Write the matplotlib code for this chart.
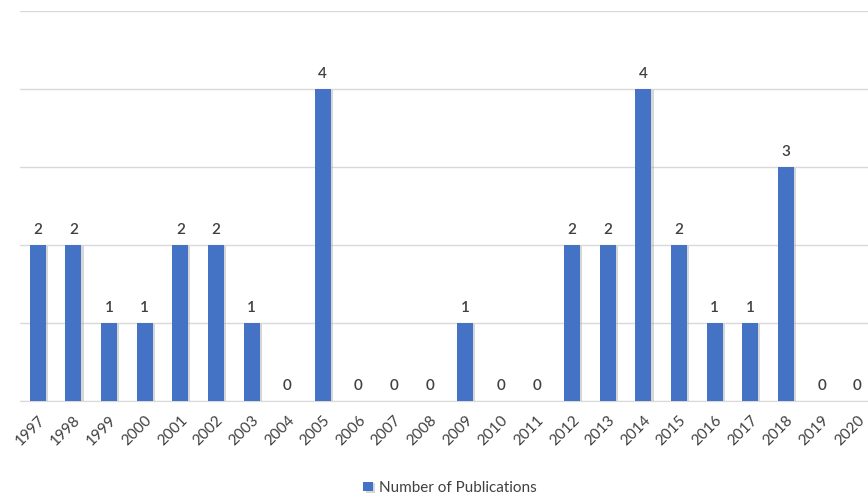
import matplotlib
matplotlib.use("Agg")
import matplotlib.pyplot as plt
import matplotlib.patheffects as pe
import numpy as np

years = ["1997", "1998", "1999", "2000", "2001", "2002", "2003", "2004",
         "2005", "2006", "2007", "2008", "2009", "2010", "2011", "2012",
         "2013", "2014", "2015", "2016", "2017", "2018", "2019", "2020"]
publications = [2, 2, 1, 1, 2, 2, 1, 0, 4, 0, 0, 0, 1, 0, 0, 2,
                2, 4, 2, 1, 1, 3, 0, 0]

plt.rcParams["font.family"] = ["Lato", "DejaVu Sans"]

W, H = 868, 497
fig = plt.figure(figsize=(W / 100, H / 100), dpi=100)
ax = fig.add_axes([20 / W, (H - 401) / H, 855 / W, 390 / H])

x = np.arange(len(years))
bars = ax.bar(x, publications, width=0.45, color="#4472C4", zorder=3,
              path_effects=[pe.SimplePatchShadow(offset=(1.5, -1), shadow_rgbFace="#b0b0b0", alpha=0.5),
                            pe.Normal()])

for xi, v in zip(x, publications):
    ax.text(xi, v + 0.1, str(v), ha="center", va="bottom", fontsize=11,
            color="#404040", fontweight="semibold")

ax.set_xlim(-0.5, len(years) - 0.5)
ax.set_ylim(0, 5)
ax.set_yticks(range(0, 6))
ax.yaxis.grid(True, color="#d9d9d9", linewidth=1, zorder=0)
ax.tick_params(axis="y", left=False, labelleft=False)
ax.tick_params(axis="x", length=0, pad=9, labelsize=11, labelcolor="#404040")
ax.set_xticks(x)
ax.set_xticklabels(years, rotation=45, ha="right", rotation_mode="anchor")
for s in ["top", "right", "left"]:
    ax.spines[s].set_visible(False)
ax.spines["bottom"].set_color("#d9d9d9")
ax.set_axisbelow(True)

fig.legend([bars], ["Number of Publications"], loc="center",
           bbox_to_anchor=(450 / W, 1 - 488 / H), frameon=False, fontsize=11,
           handlelength=0.6, handleheight=0.6, handletextpad=0.4,
           labelcolor="#404040")

fig.savefig("out.png", dpi=100)
